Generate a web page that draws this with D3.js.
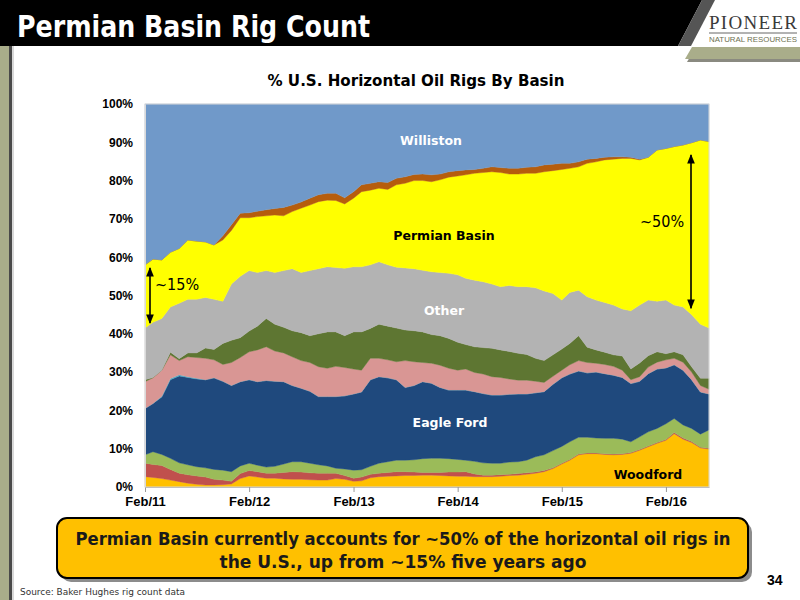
<!DOCTYPE html>
<html>
<head>
<meta charset="utf-8">
<script src="https://cdn.jsdelivr.net/npm/d3@7"></script>
<style>
  body { margin: 0; background: #fff; }
  svg { display: block; }
</style>
</head>
<body>
<svg id="chart" width="800" height="600"></svg>
<script>
// monthly shares (%) of U.S. horizontal oil rigs, Feb/11 .. Jul/16
const months = d3.timeMonth.range(new Date(2011, 1, 1), new Date(2016, 7, 1))

const woodford = [2.7,2.5,2.2,1.8,1.4,1.0,0.7,0.5,0.5,0.6, 0.8,2.2,2.9,2.6,2.3,2.3,2.1,2.0,2.0,1.9,
  1.8,1.8,2.2,2.0,1.5,1.6,2.4,2.7,2.8,2.9, 3.0,3.0,3.1,3.1,3.0,2.9,2.8,2.8,2.7,2.7,
  2.7,2.8,3.0,3.1,3.3,3.6,4.0,4.8,6.0,7.0, 8.4,8.7,8.7,8.5,8.4,8.5,8.8,9.6,10.5,11.4,
  12.2,13.9,12.5,11.6,10.2,9.9]
const redBasin = [3.5,3.4,3.4,2.8,2.2,2.2,2.2,2.1,1.5,1.2, 0.7,1.3,1.4,1.4,1.3,1.3,1.7,2.0,1.9,1.8,
  1.8,1.8,1.4,1.0,0.8,1.0,0.9,0.9,1.0,1.1, 1.0,0.9,0.7,0.7,0.8,1.0,1.1,1.2,0.7,0.4,
  0.4,0.4,0.3,0.4,0.4,0.3,0.3,0.2,0.2,0.2, 0.2,0.2,0.2,0.2,0.2,0.2,0.2,0.2,0.2,0.2,
  0.2,0.3,0.3,0.3,0.2,0.2]
const greenBasin = [2.2,3.3,2.9,2.9,2.7,2.6,2.4,2.4,2.6,2.6, 2.5,2.0,1.9,1.7,1.6,1.8,2.2,2.6,2.7,2.5,
  2.2,1.9,1.3,1.7,2.1,1.9,2.1,2.6,2.8,3.0, 3.0,3.2,3.6,3.7,3.7,3.5,3.3,3.0,3.3,3.2,
  3.1,3.0,3.2,3.1,3.3,4.0,4.1,4.5,4.4,4.6, 4.4,4.1,3.9,4.0,4.1,3.8,2.8,3.3,3.7,3.7,
  4.1,3.7,3.4,3.4,3.4,4.8]
const eagleFord = [12.1,12.6,15.0,20.5,22.7,22.8,22.9,23.0,23.9,23.2, 22.5,22.0,21.8,21.8,22.6,22.2,21.5,19.9,19.2,18.8,
  17.8,18.1,18.7,19.1,19.9,20.3,22.6,22.6,21.9,21.0, 19.0,19.4,20.1,19.6,18.5,17.9,18.1,18.3,18.2,18.1,
  17.8,17.8,17.7,17.7,17.3,16.7,16.5,17.3,17.9,17.7, 17.3,16.8,17.2,16.9,16.5,16.1,15.2,14.5,15.2,15.5,
  14.6,14.0,14.3,12.7,11.0,9.4]
const cyanBasin = [0,0,0.2,0.3,0.3,0.2,0.2,0,0,0, 0,0,0,0,0,0,0,0,0,0,
  0,0,0,0,0,0,0,0,0,0, 0,0,0,0,0,0,0,0,0,0,
  0,0,0,0,0,0,0,0,0,0, 0,0,0,0,0,0,0,0,0,0,
  0,0,0,0,0,0]
const pinkBasin = [7.0,6.7,6.8,6.2,3.7,5.2,5.4,5.6,4.7,4.4, 6.0,6.3,7.3,8.3,8.8,7.9,7.5,7.5,7.2,7.5,
  7.8,7.4,7.9,7.4,6.5,5.7,5.6,4.8,4.7,4.7, 7.0,6.2,5.0,5.2,5.8,5.7,5.2,5.5,5.0,5.1,
  4.8,4.6,4.0,3.6,3.6,3.0,2.4,2.1,2.0,2.4, 2.7,2.7,2.3,2.4,2.3,1.9,1.0,1.2,1.7,1.8,
  2.1,1.7,2.1,2.0,1.7,1.2]
const oliveBasin = [0.5,0.1,0.0,0.7,0.5,1.0,1.2,2.7,2.7,5.5, 5.8,5.2,5.4,6.2,7.4,7.0,6.7,6.8,7.3,7.0,
  8.6,9.5,9.0,8.3,9.7,10.0,7.8,8.9,8.8,8.8, 8.0,8.1,8.0,7.5,7.7,7.8,7.3,6.4,6.7,6.9,
  7.4,7.2,7.2,7.0,6.7,6.0,5.7,5.6,5.5,5.6, 6.5,4.0,3.5,3.2,3.0,3.7,2.8,3.6,3.0,2.7,
  1.6,1.7,1.9,1.4,1.9,2.9]
const other = [13.5,14.4,13.5,11.8,14.5,14.0,14.0,13.2,13.1,11.0, 14.7,16.0,15.8,14.0,12.5,13.5,14.8,16.2,15.7,17.0,
  17.0,17.0,16.8,17.6,17.0,17.0,16.6,16.3,16.0,15.9, 16.2,16.2,16.1,16.4,16.5,17.0,17.6,17.3,17.4,17.2,
  16.8,16.5,17.2,17.4,17.7,18.4,18.2,16.0,12.8,13.3, 11.9,13.2,13.0,13.0,13.0,12.3,15.2,15.1,14.5,13.2,
  14.0,12.2,12.5,13.6,14.1,13.1]
const permian = [16.5,16.5,15.3,14.3,14.3,15.5,15.2,14.5,14.2,16.0, 14.0,15.3,13.8,14.6,14.3,15.0,14.3,14.9,16.8,17.1,
  17.5,17.4,17.5,16.8,17.9,19.6,19.5,19.2,19.7,21.5, 22.1,23.0,23.4,23.5,24.2,25.1,25.8,27.0,27.9,28.5,
  29.3,29.8,29.1,29.4,29.6,29.9,31.1,32.1,34.1,32.4, 32.2,34.8,36.1,37.2,38.1,39.3,39.8,37.9,37.3,39.5,
  39.6,41.4,42.3,44.9,48.1,48.7]
const brownBasin = [0,0,0,0,0,0,0,0,0,1.1, 1.5,1.2,1.3,1.4,1.6,1.7,2.2,1.7,1.6,1.8,
  1.8,1.8,1.9,1.6,1.7,1.8,1.8,1.7,1.8,1.7, 1.7,1.6,1.7,1.8,1.5,1.4,1.4,1.3,1.0,1.1,
  1.3,1.3,1.5,1.5,1.6,1.7,1.8,1.7,1.6,1.3, 1.3,1.1,0.9,0.7,0.6,0.4,0.3,0.2,0,0,
  0,0,0,0,0,0]
const williston = [42.0,40.5,40.7,38.7,37.7,35.5,35.8,36.0,36.8,34.4, 31.5,28.5,28.4,28.0,27.6,27.3,27.0,26.4,25.6,24.6,
  23.7,23.3,23.3,24.5,22.9,21.1,20.7,20.3,20.5,19.4, 19.0,18.4,18.3,18.5,18.3,17.7,17.4,17.2,17.1,16.8,
  16.4,16.6,16.8,16.8,16.5,16.4,15.9,15.7,15.5,15.5, 15.1,14.4,14.2,13.9,13.8,13.8,13.9,14.4,13.9,12.0,
  11.6,11.1,10.7,10.1,9.4,9.8]

const keys = ["Woodford", "red", "green", "Eagle Ford", "cyan", "pink", "olive", "Other", "Permian Basin", "brown", "Williston"]
const colors = ["#ffc000", "#c0504d", "#9bbb59", "#1f497d", "#4bacc6", "#d99694", "#5e7632", "#b3b3b3", "#ffff00", "#b65d0d", "#7099c9"]
const values = [woodford, redBasin, greenBasin, eagleFord, cyanBasin, pinkBasin, oliveBasin, other, permian, brownBasin, williston]

const xTicks = [2011, 2012, 2013, 2014, 2015, 2016].map(yr => new Date(yr, 1, 1))
const yTicks = [0, 0.1, 0.2, 0.3, 0.4, 0.5, 0.6, 0.7, 0.8, 0.9, 1]

// annotation arrows (share range, %)
const startArrow = [42.8, 57.2]
const endArrow = [46.7, 86.7]

const rows = months.map((d, i) => {
  const r = {date: d}
  keys.forEach((k, j) => { r[k] = values[j][i] })
  return r
})

const svg = d3.select("#chart")
const cond = "'DejaVu Sans Condensed', 'DejaVu Sans', sans-serif"

// ---- slide frame ----
svg.append("rect").attr("x", 0).attr("y", 46).attr("width", 9).attr("height", 554).attr("fill", "#a9ad8a")
svg.append("rect").attr("x", 9).attr("y", 46).attr("width", 3).attr("height", 554).attr("fill", "#4a4a4a")
svg.append("rect").attr("x", 12).attr("y", 46).attr("width", 2).attr("height", 554).attr("fill", "#d8d8d8")

svg.append("polygon").attr("points", "0,0 702,0 678,46 0,46").attr("fill", "#000")
svg.append("polygon").attr("points", "702,0 715,0 691,46 678,46").attr("fill", "#555")
svg.append("polygon").attr("points", "694,50 800,50 800,62 687,62").attr("fill", "#8a8a80")
svg.append("polygon").attr("points", "692,47 800,47 800,59 685,59").attr("fill", "#a9ad8a")

svg.append("text").attr("x", 17).attr("y", 37)
  .attr("font-family", cond).attr("font-weight", "bold").attr("font-size", 31).attr("fill", "#fff")
  .attr("textLength", 353).attr("lengthAdjust", "spacingAndGlyphs")
  .text("Permian Basin Rig Count")

svg.append("text").attr("x", 709).attr("y", 29)
  .attr("font-family", "'Liberation Serif', serif").attr("font-size", 19).attr("fill", "#3a3a3a")
  .attr("textLength", 88).attr("lengthAdjust", "spacing")
  .text("PIONEER")
svg.append("line").attr("x1", 709).attr("x2", 797).attr("y1", 33).attr("y2", 33)
  .attr("stroke", "#666").attr("stroke-width", 1)
svg.append("text").attr("x", 709).attr("y", 42)
  .attr("font-family", "'Liberation Sans', sans-serif").attr("font-size", 8).attr("fill", "#6d7050")
  .attr("textLength", 88).attr("lengthAdjust", "spacingAndGlyphs")
  .text("NATURAL RESOURCES")

// ---- chart ----
const plot = {left: 145, right: 709, top: 104, bottom: 487}

const x = d3.scaleTime()
  .domain(d3.extent(months))
  .range([plot.left, plot.right])

const y = d3.scaleLinear()
  .domain([0, 1])
  .range([plot.bottom, plot.top])

const stack = d3.stack().keys(keys).offset(d3.stackOffsetExpand)
const layers = stack(rows)

const area = d3.area()
  .x(d => x(d.data.date))
  .y0(d => y(d[0]))
  .y1(d => y(d[1]))

svg.append("g")
  .selectAll("path")
  .data(layers)
  .join("path")
  .attr("d", area)
  .attr("fill", (d, i) => colors[i])
  .attr("stroke", (d, i) => colors[i])
  .attr("stroke-width", 0.4)

svg.append("rect")
  .attr("x", plot.left).attr("y", plot.top)
  .attr("width", plot.right - plot.left).attr("height", plot.bottom - plot.top)
  .attr("fill", "none").attr("stroke", "#d9d9d9").attr("stroke-width", 1)

const xAxis = svg.append("g")
  .attr("transform", `translate(0,${plot.bottom})`)
  .call(d3.axisBottom(x).tickValues(xTicks).tickFormat(d3.timeFormat("%b/%y")).tickSize(5).tickSizeOuter(0).tickPadding(5))
xAxis.select(".domain").attr("stroke", "#bfbfbf")
xAxis.selectAll(".tick line").attr("stroke", "#999")
xAxis.selectAll("text")
  .attr("font-family", "'Liberation Sans', Arial, sans-serif").attr("font-weight", "bold")
  .attr("font-size", 13).attr("fill", "#000")

const yAxis = svg.append("g")
  .attr("transform", `translate(${plot.left},0)`)
  .call(d3.axisLeft(y).tickValues(yTicks).tickFormat(d3.format(".0%")).tickSize(0).tickPadding(12))
yAxis.select(".domain").attr("stroke", "#d9d9d9")
yAxis.selectAll("text")
  .attr("font-family", "'Liberation Sans', Arial, sans-serif").attr("font-weight", "bold")
  .attr("font-size", 12).attr("fill", "#000")

svg.append("text").attr("x", 416).attr("y", 86).attr("text-anchor", "middle")
  .attr("font-family", cond).attr("font-weight", "bold").attr("font-size", 15).attr("fill", "#000")
  .attr("textLength", 297).attr("lengthAdjust", "spacingAndGlyphs")
  .text("% U.S. Horizontal Oil Rigs By Basin")

// series labels
const labels = [
  {t: "Williston", x: 431, y: 145, c: "#fff"},
  {t: "Permian Basin", x: 444, y: 240, c: "#000"},
  {t: "Other", x: 444, y: 315, c: "#fff"},
  {t: "Eagle Ford", x: 450, y: 427, c: "#fff"},
  {t: "Woodford", x: 648, y: 479, c: "#000"}
]
svg.append("g").selectAll("text")
  .data(labels)
  .join("text")
  .attr("x", d => d.x).attr("y", d => d.y)
  .attr("text-anchor", "middle")
  .attr("font-family", "'DejaVu Sans', Verdana, sans-serif").attr("font-weight", "bold")
  .attr("font-size", 12.5).attr("fill", d => d.c)
  .text(d => d.t)

// arrows
const defs = svg.append("defs")
defs.append("marker").attr("id", "head").attr("viewBox", "0 0 10 10")
  .attr("refX", 9).attr("refY", 5).attr("markerWidth", 6).attr("markerHeight", 6)
  .attr("orient", "auto-start-reverse")
  .append("path").attr("d", "M0,1 L10,5 L0,9 Z").attr("fill", "#000")

function arrow(xPos, range) {
  svg.append("line")
    .attr("x1", xPos).attr("x2", xPos)
    .attr("y1", y(range[0] / 100)).attr("y2", y(range[1] / 100))
    .attr("stroke", "#000").attr("stroke-width", 1.6)
    .attr("marker-start", "url(#head)").attr("marker-end", "url(#head)")
}
arrow(150, startArrow)
arrow(691, endArrow)

svg.append("text").attr("x", 155).attr("y", 290)
  .attr("font-family", cond).attr("font-size", 16).attr("fill", "#000").text("~15%")
svg.append("text").attr("x", 640).attr("y", 227)
  .attr("font-family", cond).attr("font-size", 16).attr("fill", "#000").text("~50%")

// ---- callout ----
svg.append("rect").attr("x", 61).attr("y", 522).attr("width", 691).attr("height", 60)
  .attr("rx", 10).attr("fill", "#8c8c8c")
svg.append("rect").attr("x", 57).attr("y", 518).attr("width", 691).attr("height", 60)
  .attr("rx", 10).attr("fill", "#ffc000").attr("stroke", "#000").attr("stroke-width", 2)

svg.append("text").attr("x", 403).attr("y", 545).attr("text-anchor", "middle")
  .attr("font-family", cond).attr("font-weight", "bold").attr("font-size", 18).attr("fill", "#1a1a1a")
  .attr("textLength", 655).attr("lengthAdjust", "spacingAndGlyphs")
  .text("Permian Basin currently accounts for ~50% of the horizontal oil rigs in")
svg.append("text").attr("x", 403).attr("y", 568).attr("text-anchor", "middle")
  .attr("font-family", cond).attr("font-weight", "bold").attr("font-size", 18).attr("fill", "#1a1a1a")
  .attr("textLength", 367).attr("lengthAdjust", "spacingAndGlyphs")
  .text("the U.S., up from ~15% five years ago")

svg.append("text").attr("x", 767).attr("y", 585)
  .attr("font-family", "'Liberation Sans', Arial, sans-serif").attr("font-weight", "bold")
  .attr("font-size", 14).attr("fill", "#000").text("34")

svg.append("text").attr("x", 20).attr("y", 595)
  .attr("font-family", cond).attr("font-size", 9).attr("fill", "#333")
  .attr("textLength", 165).attr("lengthAdjust", "spacingAndGlyphs")
  .text("Source: Baker Hughes rig count data")
</script>
</body>
</html>
